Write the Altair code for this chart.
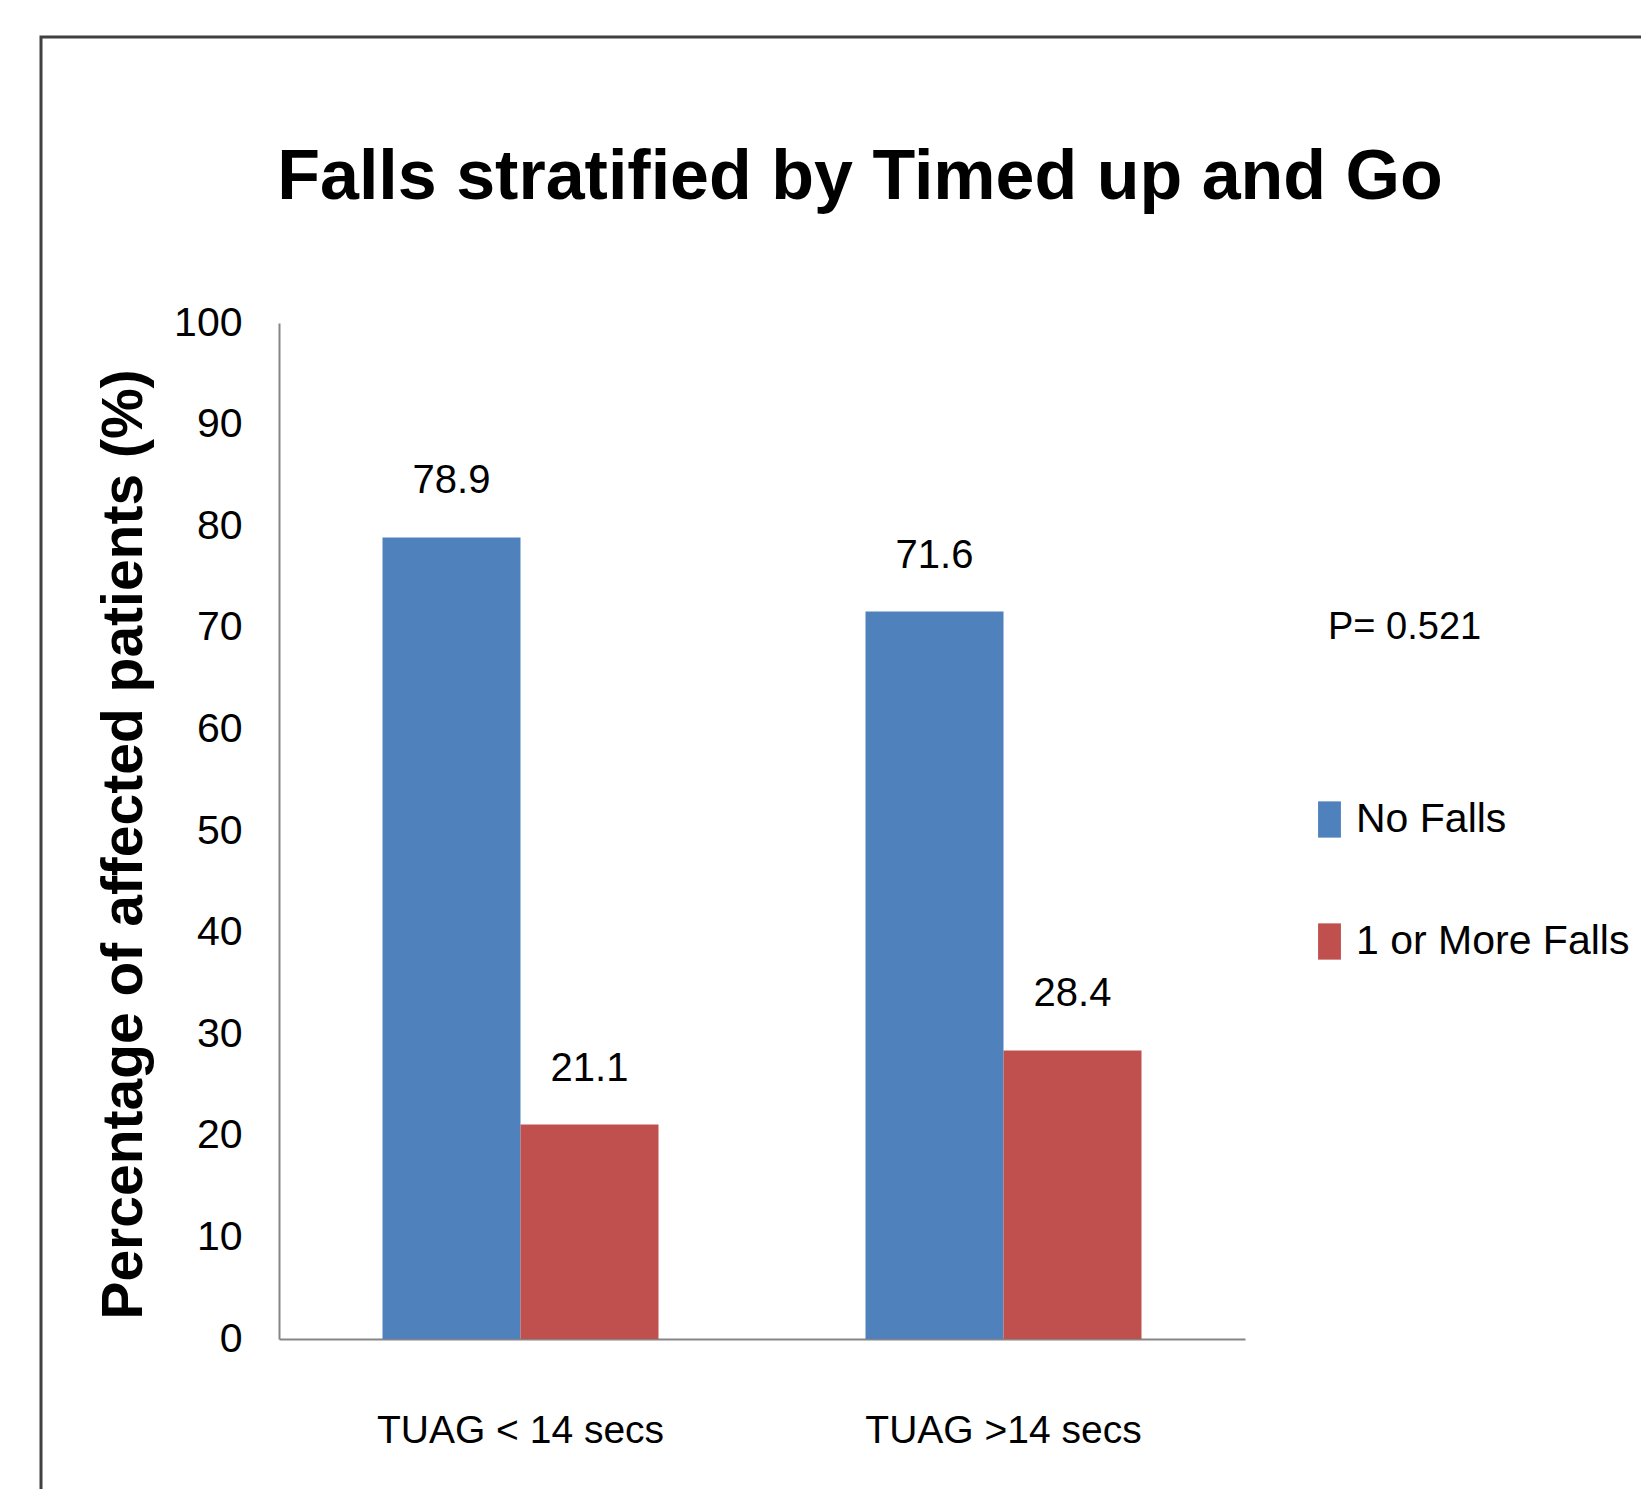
import altair as alt
import pandas as pd

categories = ["TUAG < 14 secs", "TUAG >14 secs"]
series = ["No Falls", "1 or More Falls"]
no_falls = [78.9, 71.6]
more_falls = [21.1, 28.4]
colors = ["#4F81BD", "#C0504D"]
p_text = "P= 0.521"
title_text = "Falls stratified by Timed up and Go"
y_title = "Percentage of affected patients (%)"

rows = []
for i, c in enumerate(categories):
    rows.append({"group": c, "series": series[0], "value": no_falls[i], "label": f"{no_falls[i]:.1f}"})
    rows.append({"group": c, "series": series[1], "value": more_falls[i], "label": f"{more_falls[i]:.1f}"})
df = pd.DataFrame(rows)

FONT = "Liberation Sans, Arial, sans-serif"
W, H = 966, 1016

x_enc = alt.X("group:N", sort=categories, title=None,
              scale=alt.Scale(paddingInner=0.4286, paddingOuter=0.2143),
              axis=alt.Axis(labelAngle=0, labelFont=FONT, labelFontSize=39,
                            labelColor="#000", labelPadding=72, ticks=False,
                            labelLimit=0, domainColor="#868686", domainWidth=2))
xo_enc = alt.XOffset("series:N", sort=series,
                     scale=alt.Scale(paddingInner=0, paddingOuter=0))
y_enc = alt.Y("value:Q", scale=alt.Scale(domain=[0, 100]),
              title=y_title,
              axis=alt.Axis(values=list(range(0, 101, 10)), grid=False, ticks=False,
                            labelFont=FONT, labelFontSize=41, labelColor="#000",
                            labelPadding=37, domainColor="#868686", domainWidth=2,
                            titleFont=FONT,
                            titleFontSize=57, titleFontWeight="bold", titleColor="#000",
                            titlePadding=20, titleY=521))

bars = alt.Chart(df).mark_bar().encode(
    x=x_enc, xOffset=xo_enc, y=y_enc,
    color=alt.Color("series:N", sort=series,
                    scale=alt.Scale(domain=series, range=colors),
                    legend=alt.Legend(title=None, orient="none", legendX=1030, legendY=476,
                                      symbolType="M-0.63,-1L0.63,-1L0.63,1L-0.63,1Z",
                                      symbolSize=1316, symbolStrokeWidth=0,
                                      labelFont=FONT, labelFontSize=41, labelLimit=0,
                                      labelColor="#000", rowPadding=80,
                                      labelOffset=6)),
)

labels = alt.Chart(df).mark_text(baseline="alphabetic", dy=-44, font=FONT,
                                 fontSize=40, color="#000").encode(
    x=alt.X("group:N", sort=categories), xOffset=alt.XOffset("series:N", sort=series),
    y="value:Q", text="label:N")

ptext = alt.Chart(alt.Data(values=[{"t": p_text}])).mark_text(
    align="left", baseline="middle", font=FONT, fontSize=38, color="#000"
).encode(x=alt.value(1049), y=alt.value(305), text="t:N")

title = alt.Chart(alt.Data(values=[{"t": title_text}])).mark_text(
    align="center", baseline="alphabetic", font=FONT, fontSize=70,
    fontWeight="bold", color="#000"
).encode(x=alt.value(W / 2 + 98), y=alt.value(-124), text="t:N")

frame = alt.Chart(alt.Data(values=[{"a": 1}])).mark_rect(
    fill=None, stroke="#404040", strokeWidth=3
).encode(x=alt.value(-238), x2=alt.value(1400), y=alt.value(-286), y2=alt.value(1250))

chart = alt.layer(frame, bars, labels, ptext, title).properties(
    width=W, height=H,
    autosize=alt.AutoSizeParams(type="none"),
    padding={"left": 271, "top": 315, "right": 396, "bottom": 150},
).configure(background="white", view=alt.ViewConfig(stroke=None))

chart.save("out.html", embed_options={"renderer": "svg", "actions": False})
